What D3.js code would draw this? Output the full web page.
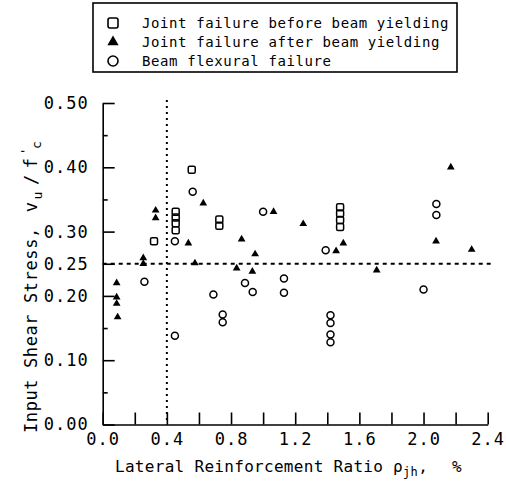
<meta charset="utf-8">
<html>
<script src="https://cdn.jsdelivr.net/npm/d3@7"></script>
<style>
body { margin: 0; background: #fff; }
svg text { font-family: "DejaVu Sans Mono", monospace; fill: #000; }
.axis path, .axis line { stroke: #000; stroke-width: 1.6; }
.axis text { font-size: 17px; letter-spacing: 1px; }
</style>
<body>
<svg id="chart" width="506" height="481"></svg>
<script type="text/javascript">

// joint failure before beam yielding (squares)
var squareX = [0.555, 0.32, 0.455, 0.455, 0.455, 0.455, 0.727, 0.727, 1.48, 1.48, 1.48, 1.48];
var squareY = [0.396, 0.285, 0.331, 0.322, 0.313, 0.302, 0.319, 0.309, 0.338, 0.328, 0.318, 0.307];

// joint failure after beam yielding (triangles)
var triX = [0.087, 0.087, 0.087, 0.093, 0.253, 0.253, 0.33, 0.33, 0.534, 0.575, 0.627, 0.835, 0.866, 0.933, 0.95, 1.065, 1.25, 1.455, 1.50, 1.708, 2.078, 2.17, 2.30];
var triY = [0.220, 0.198, 0.188, 0.167, 0.259, 0.250, 0.333, 0.321, 0.282, 0.251, 0.344, 0.243, 0.288, 0.238, 0.265, 0.331, 0.312, 0.270, 0.282, 0.240, 0.285, 0.400, 0.272];

// beam flexural failure (circles)
var circX = [0.561, 0.45, 0.45, 0.26, 0.69, 0.887, 0.935, 1.0, 1.13, 1.13, 0.748, 0.748, 1.42, 1.42, 1.42, 1.42, 1.39, 2.08, 2.08, 2.0];
var circY = [0.362, 0.285, 0.138, 0.222, 0.202, 0.220, 0.206, 0.331, 0.227, 0.205, 0.171, 0.159, 0.170, 0.158, 0.140, 0.128, 0.271, 0.343, 0.326, 0.210];

var xTicks = [0, 0.2, 0.4, 0.6, 0.8, 1.0, 1.2, 1.4, 1.6, 1.8, 2.0, 2.2, 2.4];
var yTicks = [0, 0.1, 0.2, 0.25, 0.3, 0.4, 0.5];
var yMinor = [0.05, 0.15, 0.35, 0.45];
var legendLabels = ["Joint failure before beam yielding", "Joint failure after beam yielding", "Beam flexural failure"];

var svg = d3.select("#chart");

var x = d3.scaleLinear().domain([0, 2.4]).range([102.7, 487.7]);
var y = d3.scaleLinear().domain([0, 0.5]).range([424.5, 103]);

// dotted guide lines
svg.append("line")
	.attr("x1", x(0.4)).attr("x2", x(0.4))
	.attr("y1", y(0.5) - 3).attr("y2", y(0))
	.style("stroke", "#000").style("stroke-width", 2)
	.style("stroke-dasharray", "2,4");
svg.append("line")
	.attr("x1", x(0)).attr("x2", x(2.42))
	.attr("y1", y(0.25)).attr("y2", y(0.25))
	.style("stroke", "#000").style("stroke-width", 2)
	.style("stroke-dasharray", "4,4");

// axes
svg.append("g").attr("class", "axis")
	.attr("transform", "translate(" + x(0) + ",0)")
	.call(d3.axisLeft(y).tickValues(yTicks).tickFormat(d3.format(".2f"))
		.tickSizeInner(-12).tickSizeOuter(0).tickPadding(14));
svg.append("g").attr("class", "axis")
	.attr("transform", "translate(" + x(0) + ",0)")
	.call(d3.axisLeft(y).tickValues(yMinor).tickFormat("")
		.tickSizeInner(-5).tickSizeOuter(0))
	.select(".domain").remove();

svg.append("g").attr("class", "axis")
	.attr("transform", "translate(0," + y(0) + ")")
	.call(d3.axisBottom(x).tickValues(xTicks)
		.tickFormat(function(d, i) { return i % 2 === 0 ? d3.format(".1f")(d) : ""; })
		.tickSizeInner(-12).tickSizeOuter(0).tickPadding(8));

// axis titles
var yt = svg.append("text")
	.attr("transform", "translate(37,433) rotate(-90)")
	.attr("text-anchor", "start")
	.style("font-size", "17px").style("letter-spacing", "0.6px");
yt.append("tspan").text("Input Shear Stress, ");
yt.append("tspan").attr("dx", 4).text("v");
yt.append("tspan").attr("dy", 5).attr("dx", 2).style("font-size", "13px").text("u");
yt.append("tspan").attr("dy", -5).attr("dx", 6).text("/");
yt.append("tspan").attr("dx", 6).text("f");
yt.append("tspan").attr("dy", -7).attr("dx", 2).style("font-size", "13px").text("'");
yt.append("tspan").attr("dy", 11).attr("dx", -2).style("font-size", "13px").text("c");

var xt = svg.append("text")
	.attr("x", 115).attr("y", 472)
	.style("font-size", "16px").style("letter-spacing", "0.3px");
xt.append("tspan").text("Lateral Reinforcement Ratio ρ");
xt.append("tspan").attr("dy", 4).style("font-size", "12px").text("jh");
xt.append("tspan").attr("dy", -4).text(",");
xt.append("tspan").attr("x", 452).text("%");

// markers
svg.append("g").selectAll("rect")
	.data(d3.range(squareX.length))
	.enter().append("rect")
	.attr("x", function(i) { return x(squareX[i]) - 3.5; })
	.attr("y", function(i) { return y(squareY[i]) - 3.5; })
	.attr("width", 7).attr("height", 7).attr("rx", 1.5)
	.style("fill", "none").style("stroke", "#000").style("stroke-width", 1.5);

svg.append("g").selectAll("circle")
	.data(d3.range(circX.length))
	.enter().append("circle")
	.attr("cx", function(i) { return x(circX[i]); })
	.attr("cy", function(i) { return y(circY[i]); })
	.attr("r", 3.5)
	.style("fill", "none").style("stroke", "#000").style("stroke-width", 1.5);

var tri = d3.symbol().type(d3.symbolTriangle).size(26);
svg.append("g").selectAll("path")
	.data(d3.range(triX.length))
	.enter().append("path")
	.attr("d", tri)
	.attr("transform", function(i) { return "translate(" + x(triX[i]) + "," + y(triY[i]) + ")"; })
	.style("fill", "#000");

// legend
var lg = svg.append("g");
lg.append("rect").attr("x", 93).attr("y", 3).attr("width", 364).attr("height", 69)
	.style("fill", "none").style("stroke", "#000").style("stroke-width", 1.6);
var rows = [23, 42, 61];
lg.append("rect").attr("x", 108).attr("y", rows[0] - 5).attr("width", 10).attr("height", 10).attr("rx", 2)
	.style("fill", "none").style("stroke", "#000").style("stroke-width", 1.6);
lg.append("path").attr("d", d3.symbol().type(d3.symbolTriangle).size(55))
	.attr("transform", "translate(113," + rows[1] + ")").style("fill", "#000");
lg.append("circle").attr("cx", 113).attr("cy", rows[2]).attr("r", 5)
	.style("fill", "none").style("stroke", "#000").style("stroke-width", 1.6);
lg.selectAll("text.lab")
	.data(legendLabels)
	.enter().append("text")
	.attr("class", "lab")
	.attr("x", 142)
	.attr("y", function(d, i) { return rows[i] + 5; })
	.style("font-size", "14px").style("letter-spacing", "0.6px")
	.text(function(d) { return d; });

</script>
</body>
</html>
